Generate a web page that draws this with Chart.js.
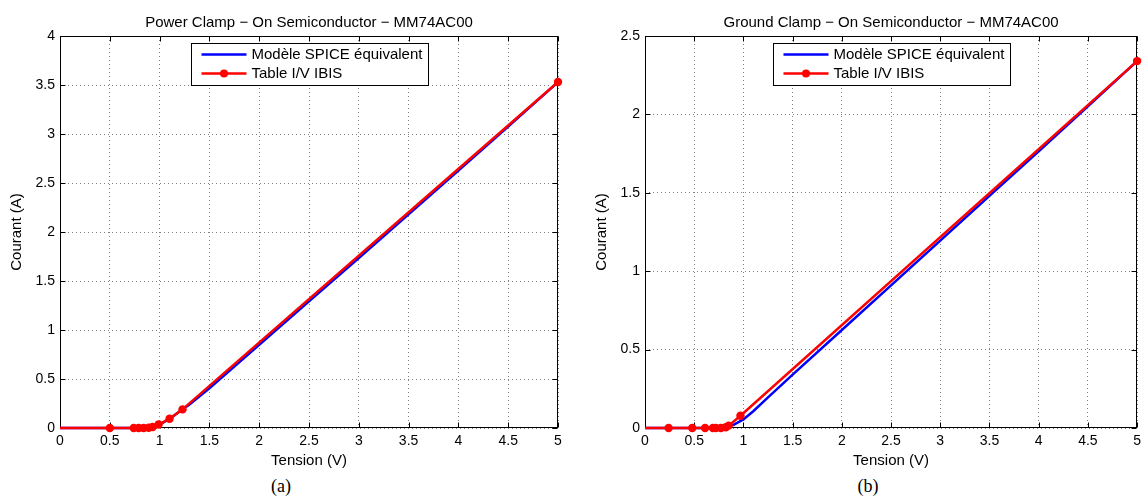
<!DOCTYPE html>
<html>
<head>
<meta charset="utf-8">
<script src="https://cdn.jsdelivr.net/npm/chart.js@4/dist/chart.umd.min.js"></script>
<style>
  html, body { margin: 0; padding: 0; background: #fff; }
  body { width: 1146px; height: 498px; position: relative; overflow: hidden; }
  .panel { position: absolute; top: 0; }
  .caption { position: absolute; top: 476px; font-family: "Liberation Serif", "DejaVu Serif", serif; font-size: 18px; color: #000; transform: translateX(-50%); }
</style>
</head>
<body>
<div class="panel" style="left:0px;width:573px;height:475px;"><canvas id="power" width="573" height="475"></canvas></div>
<div class="panel" style="left:585px;width:561px;height:475px;"><canvas id="ground" width="561" height="475"></canvas></div>
<div class="caption" style="left:281px;">(a)</div>
<div class="caption" style="left:868px;">(b)</div>
<script>
// Shared tick values
const xTicks = [0, 0.5, 1, 1.5, 2, 2.5, 3, 3.5, 4, 4.5, 5];
const yTicksPower = [0, 0.5, 1, 1.5, 2, 2.5, 3, 3.5, 4];
const yTicksGround = [0, 0.5, 1, 1.5, 2, 2.5];

// Power clamp: equivalent SPICE model (V, A)
const powerSpiceV = [0, 0.5, 0.7, 0.8, 0.9, 1.0, 1.1, 1.2, 1.3, 1.5, 2, 2.5, 3, 3.5, 4, 4.5, 5];
const powerSpiceI = [0, 0, 0, 0.002, 0.01, 0.035, 0.092, 0.168, 0.24, 0.405, 0.85, 1.292, 1.735, 2.18, 2.627, 3.077, 3.53];
// Power clamp: IBIS I/V table
const powerIbisV = [0, 0.5, 0.74, 0.79, 0.84, 0.89, 0.93, 0.99, 1.10, 1.23, 5.0];
const powerIbisI = [0, 0, 0, 0, 0, 0.003, 0.01, 0.035, 0.095, 0.19, 3.53];

// Ground clamp: equivalent SPICE model (V, A)
const groundSpiceV = [0, 0.5, 0.7, 0.8, 0.9, 1.0, 1.1, 1.25, 1.5, 2, 2.5, 3, 3.5, 4, 4.5, 5];
const groundSpiceI = [0, 0, 0, 0.004, 0.02, 0.055, 0.107, 0.195, 0.34, 0.625, 0.91, 1.195, 1.48, 1.765, 2.052, 2.34];
// Ground clamp: IBIS I/V table
const groundIbisV = [0, 0.24, 0.48, 0.61, 0.69, 0.72, 0.77, 0.82, 0.85, 0.97, 5.0];
const groundIbisI = [0, 0, 0, 0, 0, 0, 0, 0.005, 0.015, 0.078, 2.34];

const labelSpice = 'Modèle SPICE équivalent';
const labelIbis = 'Table I/V IBIS';

const FONT = '"Liberation Sans", Arial, Helvetica, sans-serif';

function pts(xs, ys) { return xs.map((x, i) => ({ x: x, y: ys[i] })); }

// Box around the plot area with inward tick marks (under the curves),
// then the boxed legend on top of everything
const framePlugin = {
  id: 'frame',
  beforeDatasetsDraw(chart) {
    const { ctx, chartArea: a, scales } = chart;
    const L = Math.round(a.left) + 0.5, R = Math.round(a.right) - 0.5;
    const T = Math.round(a.top) + 0.5, B = Math.round(a.bottom) - 0.5;
    const tl = 5;
    ctx.save();
    ctx.strokeStyle = '#000';
    ctx.lineWidth = 1;
    ctx.beginPath();
    scales.x.ticks.forEach(t => {
      const px = Math.round(scales.x.getPixelForValue(t.value)) + 0.5;
      ctx.moveTo(px, B); ctx.lineTo(px, B - tl);
      ctx.moveTo(px, T); ctx.lineTo(px, T + tl);
    });
    scales.y.ticks.forEach(t => {
      const py = Math.round(scales.y.getPixelForValue(t.value)) + 0.5;
      ctx.moveTo(L, py); ctx.lineTo(L + tl, py);
      ctx.moveTo(R, py); ctx.lineTo(R - tl, py);
    });
    ctx.stroke();
    ctx.strokeRect(L, T, R - L, B - T);
    ctx.restore();
  },
  afterDatasetsDraw(chart) {
    const { ctx, chartArea: a } = chart;
    const w = 237, h = 42;
    const bx = Math.round((a.left + a.right) / 2 - w / 2) + 0.5;
    const by = Math.round(a.top) + 7.5;
    ctx.save();
    ctx.fillStyle = '#fff';
    ctx.fillRect(bx, by, w, h);
    ctx.strokeStyle = '#000';
    ctx.lineWidth = 1;
    ctx.strokeRect(bx, by, w, h);
    ctx.font = '15px ' + FONT;
    ctx.textBaseline = 'middle';
    ctx.textAlign = 'left';
    chart.data.datasets.forEach((ds, i) => {
      const y = by + 11 + i * 19;
      ctx.strokeStyle = ds.borderColor;
      ctx.lineWidth = ds.borderWidth;
      ctx.beginPath();
      ctx.moveTo(bx + 10, y); ctx.lineTo(bx + 55, y);
      ctx.stroke();
      if (ds.showMarker) {
        ctx.fillStyle = ds.borderColor;
        ctx.beginPath();
        ctx.arc(bx + 32.5, y, 4, 0, Math.PI * 2);
        ctx.fill();
      }
      ctx.fillStyle = '#000';
      ctx.fillText(ds.label, bx + 60, y + 0.5);
    });
    ctx.restore();
  }
};

function makeChart(id, title, spiceV, spiceI, ibisV, ibisI, yTicks, padRight) {
  const yMax = yTicks[yTicks.length - 1];
  return new Chart(document.getElementById(id), {
    type: 'line',
    data: {
      datasets: [
        {
          label: labelSpice,
          data: pts(spiceV, spiceI),
          borderColor: '#0000ff',
          borderWidth: 2.5,
          pointRadius: 0,
          tension: 0,
          clip: false,
          order: 1
        },
        {
          label: labelIbis,
          data: pts(ibisV, ibisI),
          borderColor: '#ff0000',
          backgroundColor: '#ff0000',
          borderWidth: 2.5,
          pointRadius: c => (c.raw && c.raw.x <= 0 ? 0 : 4.2),
          pointBorderWidth: 0,
          pointBackgroundColor: '#ff0000',
          tension: 0,
          clip: false,
          showMarker: true,
          order: 0
        }
      ]
    },
    options: {
      responsive: false,
      animation: false,
      layout: { padding: { top: 0, right: padRight, bottom: 0, left: 0 } },
      plugins: {
        legend: { display: false },
        tooltip: { enabled: false },
        title: {
          display: true,
          fullSize: false,
          text: title,
          color: '#000',
          font: { family: FONT, size: 15, weight: 'normal' },
          padding: { top: 14, bottom: 4 }
        }
      },
      scales: {
        x: {
          type: 'linear',
          min: 0, max: 5,
          afterBuildTicks: s => { s.ticks = xTicks.map(v => ({ value: v })); },
          afterFit: s => { s.height = 47; },
          ticks: { color: '#000', font: { family: FONT, size: 14 }, padding: 5, maxRotation: 0, callback: v => String(v) },
          grid: { color: 'rgba(0,0,0,0.5)', lineWidth: 1, drawTicks: false },
          border: { display: false, dash: [1, 3] },
          title: { display: true, text: 'Tension (V)', color: '#000', font: { family: FONT, size: 15 }, padding: { top: 0, bottom: 5 } }
        },
        y: {
          type: 'linear',
          min: 0, max: yMax,
          afterBuildTicks: s => { s.ticks = yTicks.map(v => ({ value: v })); },
          afterFit: s => { s.width = 60; },
          ticks: { color: '#000', font: { family: FONT, size: 14 }, padding: 5, callback: v => String(v) },
          grid: { color: 'rgba(0,0,0,0.5)', lineWidth: 1, drawTicks: false },
          border: { display: false, dash: [1, 3] },
          title: { display: true, text: 'Courant (A)', color: '#000', font: { family: FONT, size: 15 }, padding: { top: 8, bottom: 0 } }
        }
      }
    },
    plugins: [framePlugin]
  });
}

makeChart('power', 'Power Clamp − On Semiconductor − MM74AC00',
  powerSpiceV, powerSpiceI, powerIbisV, powerIbisI, yTicksPower, 15);
makeChart('ground', 'Ground Clamp − On Semiconductor − MM74AC00',
  groundSpiceV, groundSpiceI, groundIbisV, groundIbisI, yTicksGround, 3);
</script>
</body>
</html>
